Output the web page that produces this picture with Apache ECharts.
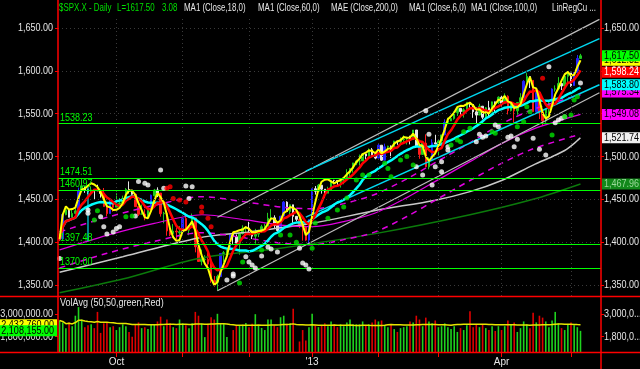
<!DOCTYPE html>
<html><head><meta charset="utf-8">
<script src="https://cdn.jsdelivr.net/npm/echarts@6/dist/echarts.min.js"></script>
<style>html,body{margin:0;padding:0;background:#000;}#c{width:640px;height:369px;}</style>
</head><body><div id="c"></div>
<script>
const dates = ['2012-09-05','2012-09-06','2012-09-07','2012-09-10','2012-09-11','2012-09-12','2012-09-13','2012-09-14','2012-09-17','2012-09-18','2012-09-19','2012-09-20','2012-09-21','2012-09-24','2012-09-25','2012-09-26','2012-09-27','2012-09-28',
'2012-10-01','2012-10-02','2012-10-03','2012-10-04','2012-10-05','2012-10-08','2012-10-09','2012-10-10','2012-10-11','2012-10-12','2012-10-15','2012-10-16','2012-10-17','2012-10-18','2012-10-19','2012-10-22','2012-10-23','2012-10-24','2012-10-25','2012-10-26','2012-10-31',
'2012-11-01','2012-11-02','2012-11-05','2012-11-06','2012-11-07','2012-11-08','2012-11-09','2012-11-12','2012-11-13','2012-11-14','2012-11-15','2012-11-16','2012-11-19','2012-11-20','2012-11-21','2012-11-23','2012-11-26','2012-11-27','2012-11-28','2012-11-29','2012-11-30',
'2012-12-03','2012-12-04','2012-12-05','2012-12-06','2012-12-07','2012-12-10','2012-12-11','2012-12-12','2012-12-13','2012-12-14','2012-12-17','2012-12-18','2012-12-19','2012-12-20','2012-12-21','2012-12-24','2012-12-26','2012-12-27','2012-12-28','2012-12-31',
'2013-01-02','2013-01-03','2013-01-04','2013-01-07','2013-01-08','2013-01-09','2013-01-10','2013-01-11','2013-01-14','2013-01-15','2013-01-16','2013-01-17','2013-01-18','2013-01-22','2013-01-23','2013-01-24','2013-01-25','2013-01-28','2013-01-29','2013-01-30','2013-01-31',
'2013-02-01','2013-02-04','2013-02-05','2013-02-06','2013-02-07','2013-02-08','2013-02-11','2013-02-12','2013-02-13','2013-02-14','2013-02-15','2013-02-19','2013-02-20','2013-02-21','2013-02-22','2013-02-25','2013-02-26','2013-02-27','2013-02-28',
'2013-03-01','2013-03-04','2013-03-05','2013-03-06','2013-03-07','2013-03-08','2013-03-11','2013-03-12','2013-03-13','2013-03-14','2013-03-15','2013-03-18','2013-03-19','2013-03-20','2013-03-21','2013-03-22','2013-03-25','2013-03-26','2013-03-27','2013-03-28',
'2013-04-01','2013-04-02','2013-04-03','2013-04-04','2013-04-05','2013-04-08','2013-04-09','2013-04-10','2013-04-11','2013-04-12','2013-04-15','2013-04-16','2013-04-17','2013-04-18','2013-04-19','2013-04-22','2013-04-23','2013-04-24','2013-04-25','2013-04-26','2013-04-29','2013-04-30',
'2013-05-01','2013-05-02','2013-05-03','2013-05-06'];
const opens = [1404.94,1403.74,1432.12,1437.92,1429.13,1433.56,1436.56,1460.07,1465.42,1461.19,1459.50,1461.05,1460.34,1459.76,1456.94,1441.60,1433.36,1447.13,
1440.90,1444.99,1446.05,1451.08,1461.40,1460.93,1455.90,1441.48,1432.82,1432.84,1428.75,1440.31,1454.22,1460.94,1457.34,1433.21,1433.74,1413.20,1409.74,1412.97,1410.99,
1412.20,1427.59,1414.02,1417.26,1428.27,1394.53,1377.55,1379.86,1380.03,1374.64,1355.41,1353.36,1359.88,1386.82,1387.79,1391.03,1409.15,1406.29,1398.77,1409.96,1415.95,
1416.34,1409.46,1407.05,1409.43,1413.95,1418.07,1418.55,1427.84,1428.48,1419.45,1413.54,1430.47,1446.79,1435.81,1443.67,1430.15,1426.66,1419.83,1418.10,1402.43,
1426.19,1462.42,1459.37,1466.47,1461.89,1457.15,1461.02,1472.12,1472.05,1470.67,1472.33,1472.63,1480.95,1485.98,1492.56,1494.81,1494.82,1502.96,1500.18,1507.84,1501.96,
1498.11,1513.17,1495.71,1511.29,1512.12,1509.39,1517.93,1517.01,1519.43,1520.33,1521.38,1519.79,1530.94,1511.95,1502.42,1515.60,1487.85,1496.94,1515.99,
1514.68,1518.20,1525.20,1539.79,1541.46,1544.26,1551.15,1556.22,1552.48,1554.52,1563.21,1560.70,1552.10,1548.34,1558.71,1545.90,1556.89,1551.69,1563.75,1562.86,
1569.18,1562.17,1570.25,1553.69,1559.98,1553.26,1563.11,1568.61,1587.73,1593.30,1588.84,1552.36,1574.57,1552.03,1541.61,1555.25,1562.50,1578.78,1578.93,1585.16,1582.34,1593.58,
1597.55,1582.77,1597.60,1614.40];
const closes = [1403.44,1432.12,1437.92,1429.08,1433.56,1436.56,1459.99,1465.77,1461.19,1459.32,1461.05,1460.26,1460.15,1456.89,1441.59,1433.32,1447.15,1440.67,
1444.49,1445.75,1450.99,1461.40,1460.93,1455.88,1441.48,1432.56,1432.84,1428.59,1440.13,1454.92,1460.91,1457.34,1433.19,1433.82,1413.11,1408.75,1412.97,1411.94,1412.16,
1427.59,1414.20,1417.26,1428.39,1394.53,1377.51,1379.85,1380.03,1374.53,1355.49,1353.33,1359.88,1386.89,1387.81,1391.03,1409.15,1406.29,1398.94,1409.93,1415.95,1416.18,
1409.46,1407.05,1409.28,1413.94,1418.07,1418.55,1427.84,1428.48,1419.45,1413.58,1430.36,1446.79,1435.81,1443.69,1430.15,1426.66,1419.83,1418.10,1402.43,1426.19,
1462.42,1459.37,1466.47,1461.89,1457.15,1461.02,1472.12,1472.05,1470.68,1472.34,1472.63,1480.94,1485.98,1492.56,1494.81,1494.82,1502.96,1500.18,1507.84,1501.96,1498.11,
1513.17,1495.71,1511.29,1512.12,1509.39,1517.93,1517.01,1519.43,1520.33,1521.38,1519.79,1530.94,1511.95,1502.42,1515.60,1487.85,1496.94,1515.99,1514.68,
1518.20,1525.20,1539.79,1541.46,1544.26,1551.18,1556.22,1552.48,1554.52,1563.23,1560.70,1552.10,1548.34,1558.71,1545.80,1556.89,1551.69,1563.77,1562.85,1569.19,
1562.17,1570.25,1553.69,1559.98,1553.28,1563.07,1568.61,1587.73,1593.37,1588.85,1552.36,1574.57,1552.01,1541.61,1555.25,1562.50,1578.78,1578.79,1585.16,1582.24,1593.61,1597.57,
1582.70,1597.59,1614.42,1617.50];
const highs = [1408.81,1432.12,1437.92,1438.74,1437.76,1439.15,1463.76,1474.51,1465.63,1461.47,1465.15,1461.23,1467.07,1460.72,1463.24,1441.60,1450.20,1447.13,
1457.14,1451.52,1454.30,1463.14,1470.96,1460.93,1455.90,1442.52,1443.90,1438.43,1441.31,1455.51,1462.20,1464.02,1457.34,1435.46,1433.74,1420.04,1421.12,1417.09,1418.76,
1428.35,1434.27,1419.90,1433.38,1428.27,1401.23,1391.39,1384.87,1388.81,1380.13,1360.62,1362.03,1386.89,1389.77,1391.25,1409.16,1409.15,1409.01,1410.13,1419.70,1418.86,
1423.73,1413.14,1415.56,1413.95,1420.34,1421.64,1434.27,1438.59,1431.36,1419.45,1430.67,1448.00,1447.75,1443.70,1443.67,1430.15,1429.42,1422.80,1418.10,1426.74,
1462.43,1465.47,1467.94,1466.47,1461.89,1464.73,1472.30,1472.75,1472.05,1473.31,1473.96,1485.16,1485.98,1492.56,1496.13,1502.27,1503.26,1503.23,1509.35,1509.94,1504.19,
1514.41,1513.17,1514.96,1512.53,1512.90,1518.31,1518.31,1522.29,1524.69,1523.14,1524.24,1530.94,1530.94,1511.95,1515.64,1525.84,1498.99,1520.08,1525.34,
1519.99,1525.27,1543.47,1545.25,1545.78,1552.48,1556.27,1556.77,1556.39,1563.32,1563.62,1560.70,1557.25,1561.56,1558.71,1557.74,1564.91,1563.95,1564.07,1570.28,
1570.57,1573.66,1571.47,1562.60,1559.98,1563.07,1573.89,1589.07,1597.35,1593.30,1588.84,1575.35,1574.57,1554.38,1555.89,1565.55,1579.58,1583.00,1592.64,1585.78,1596.65,1597.57,
1597.55,1598.60,1618.46,1619.77];
const lows = [1401.25,1403.74,1431.45,1428.98,1429.13,1432.99,1435.97,1460.07,1457.55,1456.13,1457.88,1449.98,1459.51,1452.06,1441.59,1430.53,1433.36,1435.60,
1440.90,1439.01,1441.99,1451.08,1456.89,1453.10,1441.18,1430.64,1432.82,1425.53,1427.24,1440.31,1453.35,1452.63,1429.85,1422.06,1407.56,1407.10,1405.14,1403.28,1405.95,
1412.20,1412.91,1408.13,1417.26,1388.14,1377.51,1373.03,1377.19,1371.39,1352.50,1348.05,1343.35,1359.88,1377.04,1386.39,1391.03,1398.03,1397.68,1385.43,1409.04,1411.63,
1408.46,1403.65,1398.23,1405.93,1410.90,1415.64,1418.55,1426.76,1416.00,1411.88,1413.54,1430.47,1435.80,1432.82,1422.58,1424.66,1416.43,1401.80,1401.58,1398.11,
1426.19,1455.53,1458.99,1456.62,1451.64,1457.15,1461.02,1467.58,1465.69,1463.76,1467.60,1472.63,1475.81,1481.16,1489.90,1489.46,1494.82,1496.33,1498.09,1500.11,1496.76,
1498.11,1495.02,1495.71,1504.71,1498.49,1509.39,1513.61,1515.61,1515.93,1514.02,1514.14,1519.79,1511.41,1497.29,1502.42,1487.85,1485.01,1494.88,1514.46,
1501.48,1512.29,1525.20,1538.11,1541.46,1542.94,1547.36,1548.24,1545.43,1554.52,1555.74,1545.13,1538.57,1548.34,1543.55,1545.90,1546.22,1551.69,1551.90,1561.08,
1558.47,1562.17,1549.07,1552.52,1539.50,1548.63,1560.92,1568.61,1586.17,1579.97,1552.28,1552.36,1543.69,1536.03,1539.40,1548.19,1562.50,1575.80,1578.93,1577.56,1582.34,1586.50,
1581.28,1582.77,1597.60,1614.21];
const volumes = [2650,2550,2250,2550,2350,2900,3350,2700,2300,2400,2450,2250,3100,2000,2500,2550,2300,2350,
2150,2300,2450,2350,2050,1800,2450,2550,2250,2300,2200,2450,2450,2600,2850,2350,2700,2500,2300,2250,2700,
2500,2400,2250,2500,3100,2900,2480,1780,2480,2820,2700,3000,2480,2480,1780,1000,2150,2400,2400,2430,2520,
2300,2480,2980,2400,2260,2150,2700,2700,2400,2300,2820,2900,2480,2500,3270,1000,1550,2150,1600,2300,
3000,2400,2300,2400,2500,2350,2600,2450,2300,2450,2350,2550,2700,2450,2450,2450,2600,2400,2450,2550,2700,
2600,2650,2400,2300,2450,2200,2050,2250,2300,2350,2600,2550,2900,2700,2350,2800,2600,2500,2650,
2300,2350,2500,2300,2200,2350,2050,2250,2150,2400,3130,2300,2450,2300,2450,2250,2150,2350,2100,2350,
2150,2350,2650,2450,2550,2050,2250,2600,2450,2250,3050,2550,2900,2800,2600,2300,2650,3100,2500,2250,2150,2450,
2550,2400,2300,2108].map(v => v * 1000);

// slow lines: [bar index, price]
const ma100Pts = [[0,1365],[20,1383],[44,1405],[60,1412],[80,1422],[100,1437],[119,1449],[130,1459],[140,1472],[150,1490],[160,1507],[165,1521.74]];
const ma200Pts = [[0,1341],[20,1357],[44,1381],[70,1393],[100,1410],[130,1432],[150,1450],[165,1467.96]];
const magMidPts = [[0,1391],[15,1408],[30,1422],[45,1432],[59,1426],[70,1420],[80,1418],[90,1424],[100,1434],[110,1452],[120,1473],[130,1494],[140,1515],[150,1532],[165,1549.08]];
const magUpPts = [[0,1412],[15,1429],[30,1443],[45,1453],[59,1447],[70,1441],[80,1439],[90,1445],[100,1456],[110,1474],[120,1495],[130,1516],[140,1538],[150,1555],[165,1572]];
const magDnPts = [[0,1370],[15,1387],[30,1401],[45,1411],[59,1405],[70,1399],[80,1397],[90,1403],[100,1412],[110,1430],[120,1451],[130,1472],[140,1492],[150,1509],[165,1526]];
// regression channel lines: [start idx, start price, end idx, end price]
const whiteChan = [[50,1343.4,171,1574.4],[50,1429,171,1660]];
const cyanChan = [[78,1482.9,171,1637.5],[78,1429.2,171,1583.8]];
const levels = [1538.23,1474.51,1460.97,1397.48,1370.00];
const priceTicks = [1350,1400,1450,1500,1550,1600,1650];
const volTicks = [1800000,3000000];
const whiteDots = [[0.1,1381],[8.6,1437.6],[9.1,1433.8],[12.8,1429.8],[13.8,1418],[14.9,1409.6],[16.5,1412],[18,1416],[19.1,1418],[24.4,1430.6],
[25.4,1470.7],[26.5,1468.8],[27.5,1466.8],[31.7,1484.3],[33.3,1463],[39.6,1465.6],[41.7,1464.8],[40.7,1451],
[53.2,1356],[54.5,1360.6],[55.4,1363],[58.6,1383],[59.5,1377],[60.8,1373.5],[61.8,1370],[64,1384],[65.5,1394.5],[67.4,1392],[69,1388.6],[76,1393],[77,1375.8],[78.2,1373.5],[78.5,1368.8],
[112.9,1488],[114.8,1478.5],[115.5,1553.5],[116.5,1526],[117.6,1466.8],[118.6,1488],[120.8,1482.3],[121.3,1494],[122.8,1507.6],[123.4,1511.5],[131.8,1517.3],[132.9,1526],[133.9,1522.5],[135,1524],[137.6,1536.8],[138.7,1534.8],[141.8,1522.5],[142.9,1524],[143.6,1511.5],[144.5,1520],[149.7,1521.3],[151.6,1508.5],[153.9,1501.8],[154.5,1604.8],[156.5,1539.5],[158,1542.6],[158.7,1544.6],[159.7,1546.5],[165.1,1585.8]];
const greenDots = [[11.2,1426],[11.7,1436.8],[21.2,1429.8],[22.8,1430.6],
[57,1352.4],[58,1377],[64,1391],[70.3,1408.5],[72.8,1408.5],[75,1400],[79.8,1393],[81.4,1422.5],[84.6,1428],[87.7,1437.6],[89.6,1441],[91.2,1451.6],[94,1472.6],[95.9,1478.5],[98,1478.5],
[102.9,1492],[104.4,1486],[105.4,1476.5],[107.6,1496],[109.7,1500],[112.3,1490],
[123.9,1513.5],[125.5,1519.3],[126.5,1517.3],[128.1,1529],[129.7,1533],[137.1,1529],[137.6,1527],[145,1534.8],[146.6,1540.7],[147.6,1558.2],[148.7,1552.3],[155.5,1525],[160.3,1546.5],[162.2,1548.5],[163.4,1566],[164.4,1569.8]];
const redDots = [[33.9,1463],[34.9,1464.8],[36,1451],[38,1449.3],[39.6,1447],[45,1441],[45.3,1435],[46.9,1428],[48.2,1418],[152.6,1591.3]];
const rightTags = [[1612.32,'#ffff00','#000'],[1617.50,'#00ff00','#000'],[1598.24,'#ff0000','#fff'],[1575.34,'#ff00ff','#000'],[1583.80,'#00ffff','#000'],[1549.08,'#ff00ff','#000'],[1521.74,'#f0f0f0','#000'],[1467.96,'#12881a','#9ad89a']];
const volLastTag = 2108155.00;

const cats = dates.concat(['e1','e2','e3','e4','e5','e6']);
function sma(a, n) { return a.map((_, i) => { const s = Math.max(0, i - n + 1); let t = 0; for (let k = s; k <= i; k++) t += a[k]; return +(t / (i - s + 1)).toFixed(2); }); }
function linreg(a, n) { return a.map((_, i) => { const s = Math.max(0, i - n + 1), m = i - s + 1; if (m < 2) return a[i]; let sx=0, sy=0, sxy=0, sxx=0; for (let k = 0; k < m; k++) { const y = a[s + k]; sx += k; sy += y; sxy += k * y; sxx += k * k; } const b = (m * sxy - sx * sy) / (m * sxx - sx * sx); const c = (sy - b * sx) / m; return +(c + b * (m - 1)).toFixed(2); }); }
const ma6 = sma(closes, 6), ma18 = sma(closes, 18), lr8 = linreg(closes, 8), vavg = sma(volumes, 50);
const candleData = closes.map((c, i) => {
  const prev = i ? closes[i - 1] : opens[i];
  const ch = (c - prev) / prev;
  let col = ch > 0.009 ? '#2323ff' : ch > 0 ? '#1fcc1f' : (c > ma18[i] ? '#e6e6e6' : '#ff1a1a');
  return { value: [opens[i], c, lows[i], highs[i]], itemStyle: { color: col, color0: col, borderColor: col, borderColor0: col } };
});
const volData = volumes.map((v, i) => ({ value: v, itemStyle: { color: (i && closes[i] < closes[i - 1]) ? '#e00000' : '#1ed21e' } }));
const monthStart = new Set(); const quarterStart = new Set();
dates.forEach((d, i) => { if (i && d.slice(5, 7) !== dates[i - 1].slice(5, 7)) { monthStart.add(i); if (['01','04','07','10'].includes(d.slice(5, 7))) quarterStart.add(i); } });
const FAM = '"Liberation Sans", Arial, sans-serif';
const FONT = '11px ' + FAM;
const SX = 0.82;
const fmt2 = v => Number(v).toLocaleString('en-US', { minimumFractionDigits: 2, maximumFractionDigits: 2 });
const gridMarks = [];
priceTicks.forEach(v => gridMarks.push({ yAxis: v, lineStyle: { color: '#3a3a3a', type: [1, 3], width: 1 }, label: { show: false } }));
monthStart.forEach(i => gridMarks.push({ xAxis: dates[i], lineStyle: { color: '#3a3a3a', type: [1, 3], width: 1 }, label: { show: false } }));
levels.forEach(v => gridMarks.push({ yAxis: v, lineStyle: { color: '#00ff00', type: 'solid', width: 1.2 }, label: { show: false } }));

function lineS(data, color, width, extra) { return Object.assign({ type: 'line', xAxisIndex: 0, yAxisIndex: 0, data, showSymbol: false, symbol: 'none', silent: true, lineStyle: { color, width }, z: 3 }, extra || {}); }
const dashed = { color: '#e000e0', width: 1.5, type: [6, 5] };
const series = [
  { type: 'candlestick', xAxisIndex: 0, yAxisIndex: 0, data: candleData, barWidth: 2, silent: true, z: 2,
    markLine: { symbol: 'none', silent: true, animation: false, data: gridMarks } },
  lineS(ma100Pts, '#c8c8c8', 1.5, { smooth: 0.3 }),
  lineS(ma200Pts, '#0b7a0b', 1.5, { smooth: 0.3 }),
  lineS(magMidPts, '#e000e0', 1.2, { smooth: 0.3 }),
  lineS(magUpPts, '#e000e0', 1.5, { smooth: 0.3, lineStyle: dashed }),
  lineS(magDnPts, '#e000e0', 1.5, { smooth: 0.3, lineStyle: dashed }),
];
whiteChan.forEach(c => series.push(lineS([[c[0], c[1]], [c[2], c[3]]], '#bdbdbd', 1.2)));
cyanChan.forEach(c => series.push(lineS([[c[0], c[1]], [c[2], c[3]]], '#00d8f0', 1.5)));
series.push(lineS([[9, 1464], [9, 1401]], '#00d8f0', 1.2));
series.push(lineS(ma18, '#00ffff', 2.5, { z: 4 }));
series.push(lineS(ma6, '#ff0000', 2.5, { z: 4 }));
series.push(lineS(lr8, '#ffff00', 2, { z: 4 }));
[[whiteDots, '#ffffff'], [greenDots, '#00e000'], [redDots, '#ff0000']].forEach(([d, c]) => series.push({ type: 'scatter', xAxisIndex: 0, yAxisIndex: 0, data: d, symbolSize: 5, itemStyle: { color: c }, silent: true, z: 5 }));
series.push({ type: 'bar', xAxisIndex: 1, yAxisIndex: 2, data: volData, barWidth: 1.6, silent: true });
series.push({ type: 'line', xAxisIndex: 1, yAxisIndex: 2, data: vavg, showSymbol: false, lineStyle: { color: '#e6e600', width: 1.5 }, silent: true, z: 4 });

const vMin = 1000000, vMax = 3880000;
const tick = vals => ({ show: true, customValues: vals, length: 3, lineStyle: { color: '#ff0000' } });
const chart = echarts.init(document.getElementById('c'));
chart.setOption({
  backgroundColor: '#000', animation: false,
  grid: [{ left: 58, right: 39, top: 17, height: 279 }, { left: 58, right: 39, top: 297, height: 55 }],
  xAxis: [
    { type: 'category', gridIndex: 0, data: cats, boundaryGap: true, axisLine: { show: false }, axisTick: { show: false }, axisLabel: { show: false }, splitLine: { show: false } },
    { type: 'category', gridIndex: 1, data: cats, boundaryGap: true, axisLine: { show: false },
      axisTick: { show: true, alignWithLabel: true, interval: i => monthStart.has(i), length: 5, lineStyle: { color: '#ff0000' } },
      axisLabel: { interval: i => quarterStart.has(i), color: '#e6e6e6', fontSize: 10, fontFamily: FAM, margin: 5,
        formatter: v => { const m = v.slice(5, 7); return m === '10' ? 'Oct' : m === '01' ? "'" + v.slice(2, 4) : m === '04' ? 'Apr' : m === '07' ? 'Jul' : ''; } },
      splitLine: { show: false } }
  ],
  yAxis: [
    { type: 'value', gridIndex: 0, position: 'left', min: 1337.2, max: 1662.8, splitLine: { show: false }, axisLine: { show: false }, axisTick: tick(priceTicks), axisLabel: { show: false } },
    { type: 'value', gridIndex: 0, position: 'right', min: 1337.2, max: 1662.8, splitLine: { show: false }, axisLine: { show: false }, axisTick: tick(priceTicks), axisLabel: { show: false } },
    { type: 'value', gridIndex: 1, position: 'left', min: vMin, max: vMax, splitLine: { show: false }, axisLine: { show: false }, axisTick: tick(volTicks), axisLabel: { show: false } },
    { type: 'value', gridIndex: 1, position: 'right', min: vMin, max: vMax, splitLine: { show: false }, axisLine: { show: false }, axisTick: tick(volTicks), axisLabel: { show: false } }
  ],
  series
});

const g = [];
const red = { stroke: '#ff0000', lineWidth: 1.5 };
g.push({ type: 'line', shape: { x1: 58, y1: 0, x2: 58, y2: 352 }, style: red, z: 100 });
g.push({ type: 'line', shape: { x1: 601, y1: 0, x2: 601, y2: 369 }, style: red, z: 100 });
g.push({ type: 'line', shape: { x1: 0, y1: 296.5, x2: 640, y2: 296.5 }, style: red, z: 100 });
g.push({ type: 'line', shape: { x1: 0, y1: 352.5, x2: 640, y2: 352.5 }, style: red, z: 100 });
const txt = (x, y, t, fill, align, z, font, sx) => ({ type: 'text', x, y, scaleX: sx || SX, style: { text: t, fill, font: font || FONT, textVerticalAlign: 'middle', textAlign: align || 'left' }, z: z || 100 });
const TF = '11px ' + FAM, TS = 0.72;
g.push(txt(59, 8, '$SPX.X - Daily', '#00e000', 'left', 100, TF, TS), txt(117, 8, 'L=1617.50', '#00e000', 'left', 100, TF, TS), txt(162, 8, '3.08', '#00e000', 'left', 100, TF, TS));
[[184, 'MA1 (Close,18,0)'], [258, 'MA1 (Close,60,0)'], [331, 'MAE (Close,200,0)'], [409, 'MA1 (Close,6,0)'], [471, 'MA1 (Close,100,0)'], [552, 'LinRegCu ...']]
  .forEach(([x, t]) => g.push(txt(x, 8, t, '#e6e6e6', 'left', 100, TF, TS)));
g.push(txt(60, 303, 'VolAvg (50,50,green,Red)', '#e6e6e6'));
// axis labels placed from the axes' own scales
priceTicks.forEach(v => {
  const y = chart.convertToPixel({ yAxisIndex: 0 }, v);
  g.push(txt(53, y, fmt2(v), '#e6e6e6', 'right'), txt(604, y, fmt2(v), '#e6e6e6'));
});
volTicks.forEach(v => {
  const y = chart.convertToPixel({ yAxisIndex: 2 }, v);
  g.push(txt(53, y, fmt2(v), '#e6e6e6', 'right'), txt(604, y, fmt2(v).slice(0, 7) + '...', '#e6e6e6'));
});
levels.forEach(v => {
  const y = chart.convertToPixel({ yAxisIndex: 0 }, v);
  g.push(txt(60, y - 6, v.toFixed(2), '#00ff00'));
});
rightTags.forEach(([v, bg, fg]) => {
  const y = chart.convertToPixel({ yAxisIndex: 1 }, v);
  g.push({ type: 'rect', shape: { x: 602, y: y - 5.5, width: 38, height: 11 }, style: { fill: bg }, z: 101 });
  g.push(txt(604, y, fmt2(v), fg, 'left', 101));
});
[[vavg[vavg.length - 1], '#ffff00'], [volLastTag, '#00ff00']].forEach(([v, bg]) => {
  const y = chart.convertToPixel({ yAxisIndex: 2 }, v);
  g.push({ type: 'rect', shape: { x: 0, y: y - 5.5, width: 57, height: 11 }, style: { fill: bg }, z: 101 });
  g.push(txt(54, y, fmt2(v), '#000', 'right', 101));
});
chart.setOption({ graphic: { elements: g } });
</script></body></html>
